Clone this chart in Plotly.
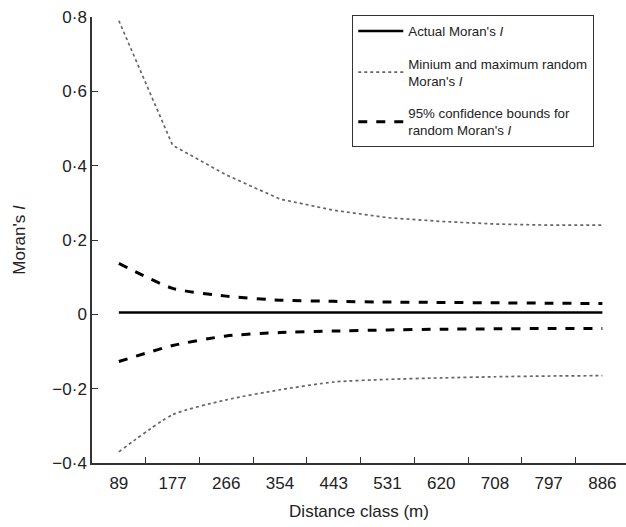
import plotly.graph_objects as go

distance_labels = ["89", "177", "266", "354", "443", "531", "620", "708", "797", "886"]
actual_I = [0.005, 0.005, 0.005, 0.005, 0.005, 0.005, 0.005, 0.005, 0.005, 0.005]
max_random_I = [0.79, 0.455, 0.375, 0.31, 0.28, 0.26, 0.25, 0.243, 0.24, 0.24]
min_random_I = [-0.37, -0.27, -0.23, -0.203, -0.182, -0.175, -0.171, -0.168, -0.166, -0.165]
upper_ci = [0.137, 0.07, 0.049, 0.038, 0.035, 0.033, 0.032, 0.031, 0.030, 0.029]
lower_ci = [-0.127, -0.084, -0.058, -0.049, -0.045, -0.042, -0.040, -0.039, -0.038, -0.038]
y_tick_vals = [-0.4, -0.2, 0, 0.2, 0.4, 0.6, 0.8]
y_tick_text = ["\u22120\u00b74", "\u22120\u00b72", "0", "0\u00b72", "0\u00b74", "0\u00b76", "0\u00b78"]

FONT = "Liberation Sans, Arial, Helvetica, sans-serif"

fig = go.Figure()
fig.add_trace(go.Scatter(x=distance_labels, y=actual_I, mode="lines",
                         line=dict(color="black", width=2.5),
                         name="Actual Moran's <i>I</i>", legendgroup="a"))
fig.add_trace(go.Scatter(x=distance_labels, y=max_random_I, mode="lines",
                         line=dict(color="#666666", width=1.7, dash="dot"),
                         name="Minium and maximum random<br>Moran's <i>I</i>", legendgroup="b"))
fig.add_trace(go.Scatter(x=distance_labels, y=min_random_I, mode="lines",
                         line=dict(color="#666666", width=1.7, dash="dot", shape="spline", smoothing=0.6),
                         showlegend=False, legendgroup="b"))
fig.add_trace(go.Scatter(x=distance_labels, y=upper_ci, mode="lines",
                         line=dict(color="black", width=3, dash="dash", shape="spline", smoothing=0.6),
                         name="95% confidence bounds for<br>random Moran's <i>I</i>", legendgroup="c"))
fig.add_trace(go.Scatter(x=distance_labels, y=lower_ci, mode="lines",
                         line=dict(color="black", width=3, dash="dash", shape="spline", smoothing=0.6),
                         showlegend=False, legendgroup="c"))

fig.update_layout(
    width=626, height=527,
    margin=dict(l=92, r=0, t=17, b=64),
    paper_bgcolor="white", plot_bgcolor="white",
    font=dict(family=FONT, color="#222222", size=16),
    legend=dict(x=0.487, y=1.005, xanchor="left", yanchor="top",
                bordercolor="#333333", borderwidth=1.2, bgcolor="white",
                font=dict(size=13.3, family=FONT, color="#222222"),
                tracegroupgap=12, itemwidth=45),
    xaxis=dict(type="category", range=[-0.5, 9.44], tickson="boundaries",
               ticks="inside", ticklen=6, tickcolor="#333333",
               showline=True, linecolor="#333333", linewidth=1.5,
               showgrid=False, zeroline=False, ticklabelstandoff=4,
               tickfont=dict(size=17), title=dict(text="Distance class (m)", font=dict(size=17), standoff=13)),
    yaxis=dict(range=[-0.4, 0.8], tickvals=y_tick_vals, ticktext=y_tick_text,
               ticks="inside", ticklen=6, tickcolor="#333333",
               showline=True, linecolor="#333333", linewidth=1.5,
               showgrid=False, zeroline=False,
               tickfont=dict(size=17), title=dict(text="Moran's <i>I</i>", font=dict(size=17), standoff=22)),
)

fig.write_html("out.html")
